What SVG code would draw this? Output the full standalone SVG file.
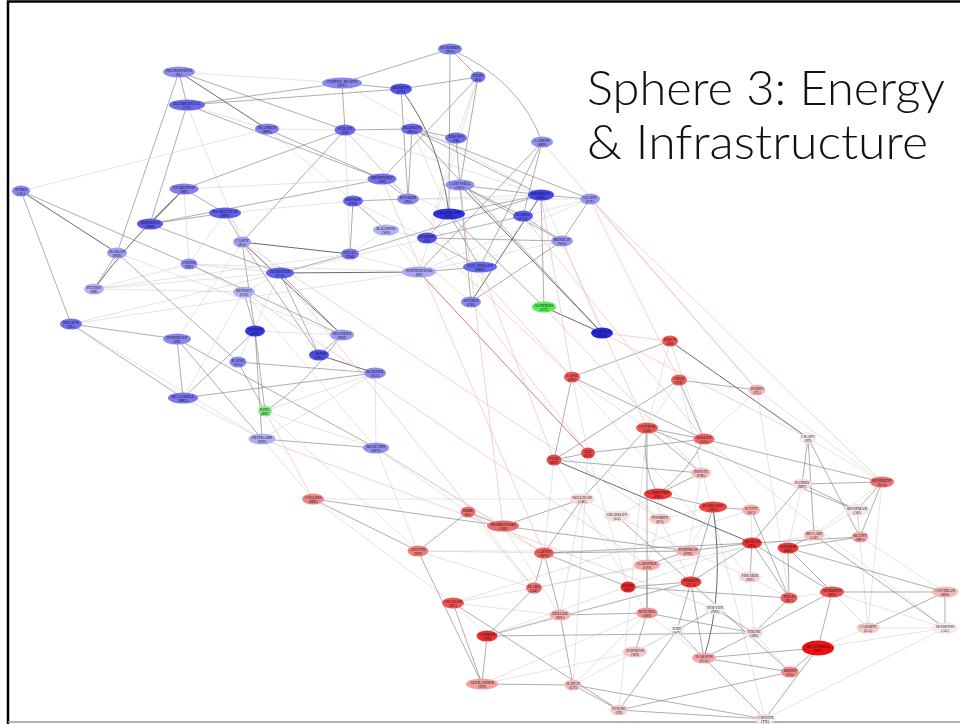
<svg xmlns="http://www.w3.org/2000/svg" width="960" height="724" viewBox="0 0 960 724">
<style>
.e1{stroke:#444;stroke-width:0.8;fill:none}
.e2{stroke:#777;stroke-width:0.6;fill:none}
.e3{stroke:#c8c8c8;stroke-width:0.5;fill:none}
.er{stroke:#ecb4b4;stroke-width:0.6;fill:none}
.err{stroke:#d46a6a;stroke-width:0.9;fill:none}
.node text{font-family:"Liberation Serif","DejaVu Serif",serif;font-size:4px;text-anchor:middle;fill:#111}
.pale{stroke:#e4d4d4;stroke-width:0.4}
.title{font-family:Lato,"Open Sans","Liberation Sans",sans-serif;font-weight:300;font-size:48px;fill:#111}
</style>
<rect width="960" height="724" fill="#fff"/>
<path d="M8,724 V1.5 H960" fill="none" stroke="#000" stroke-width="2.5"/>
<line x1="8" y1="722" x2="960" y2="722" stroke="#999" stroke-width="1.5"/>
<g id="connectors">
<line class="e2" x1="179" y1="72" x2="187" y2="105"/>
<line class="e2" x1="179" y1="72" x2="117" y2="253"/>
<line class="e1" x1="179" y1="72" x2="267" y2="129"/>
<line class="e3" x1="179" y1="72" x2="342" y2="83"/>
<line class="e2" x1="179" y1="72" x2="345" y2="130"/>
<line class="e2" x1="187" y1="105" x2="150" y2="224"/>
<line class="e3" x1="187" y1="105" x2="242" y2="242"/>
<line class="e2" x1="187" y1="105" x2="342" y2="83"/>
<line class="e2" x1="187" y1="105" x2="401" y2="89"/>
<line class="e2" x1="187" y1="105" x2="382" y2="179"/>
<line class="e3" x1="187" y1="105" x2="267" y2="129"/>
<line class="e3" x1="21" y1="191" x2="267" y2="129"/>
<line class="e1" x1="21" y1="191" x2="117" y2="253"/>
<line class="e2" x1="21" y1="191" x2="189" y2="264"/>
<line class="e2" x1="21" y1="191" x2="71" y2="324"/>
<line class="e1" x1="184" y1="189" x2="150" y2="224"/>
<line class="e2" x1="184" y1="189" x2="225" y2="213"/>
<line class="e2" x1="184" y1="189" x2="345" y2="130"/>
<line class="e3" x1="184" y1="189" x2="382" y2="179"/>
<path class="e1" d="M184,189 Q130,240 94,289"/>
<line class="e2" x1="150" y1="224" x2="225" y2="213"/>
<line class="e2" x1="150" y1="224" x2="280" y2="273"/>
<line class="e2" x1="150" y1="224" x2="382" y2="179"/>
<line class="e2" x1="342" y1="83" x2="345" y2="130"/>
<line class="e2" x1="342" y1="83" x2="450" y2="49"/>
<line class="e2" x1="342" y1="83" x2="401" y2="89"/>
<line class="e2" x1="267" y1="129" x2="382" y2="179"/>
<line class="e3" x1="267" y1="129" x2="345" y2="130"/>
<line class="e2" x1="345" y1="130" x2="412" y2="129"/>
<line class="e2" x1="345" y1="130" x2="242" y2="242"/>
<line class="e3" x1="345" y1="130" x2="408" y2="199"/>
<line class="e3" x1="345" y1="130" x2="541" y2="195"/>
<line class="e2" x1="450" y1="49" x2="478" y2="77"/>
<path class="e2" d="M450,49 Q520,80 542,142"/>
<line class="e2" x1="450" y1="49" x2="449" y2="214"/>
<line class="e2" x1="478" y1="77" x2="401" y2="89"/>
<line class="e2" x1="478" y1="77" x2="382" y2="179"/>
<line class="e3" x1="478" y1="77" x2="456" y2="138"/>
<line class="e2" x1="478" y1="77" x2="460" y2="185"/>
<line class="e2" x1="401" y1="89" x2="408" y2="199"/>
<path class="e1" d="M401,89 Q440,140 449,214"/>
<line class="e2" x1="412" y1="129" x2="456" y2="138"/>
<line class="e2" x1="412" y1="129" x2="590" y2="199"/>
<line class="e2" x1="412" y1="129" x2="541" y2="195"/>
<line class="e2" x1="412" y1="129" x2="408" y2="199"/>
<line class="e2" x1="412" y1="129" x2="602" y2="333"/>
<line class="e2" x1="542" y1="142" x2="419" y2="272"/>
<line class="e2" x1="542" y1="142" x2="523" y2="216"/>
<line class="e2" x1="542" y1="142" x2="480" y2="267"/>
<line class="e2" x1="460" y1="185" x2="541" y2="195"/>
<line class="e2" x1="460" y1="185" x2="523" y2="216"/>
<line class="e1" x1="460" y1="185" x2="602" y2="333"/>
<line class="e2" x1="460" y1="185" x2="562" y2="241"/>
<line class="e2" x1="541" y1="195" x2="590" y2="199"/>
<line class="e2" x1="449" y1="214" x2="541" y2="195"/>
<line class="e2" x1="449" y1="214" x2="544" y2="307"/>
<line class="e2" x1="449" y1="214" x2="480" y2="267"/>
<line class="e2" x1="590" y1="199" x2="562" y2="241"/>
<line class="e2" x1="562" y1="241" x2="523" y2="216"/>
<line class="e2" x1="562" y1="241" x2="427" y2="238"/>
<line class="e1" x1="471" y1="302" x2="541" y2="195"/>
<line class="e2" x1="471" y1="302" x2="562" y2="241"/>
<line class="e2" x1="471" y1="302" x2="460" y2="185"/>
<line class="e1" x1="544" y1="307" x2="602" y2="333"/>
<line class="e2" x1="544" y1="307" x2="541" y2="195"/>
<line class="e2" x1="427" y1="238" x2="480" y2="267"/>
<line class="e2" x1="480" y1="267" x2="419" y2="272"/>
<line class="e2" x1="523" y1="216" x2="427" y2="238"/>
<line class="e2" x1="408" y1="199" x2="382" y2="179"/>
<line class="e2" x1="353" y1="201" x2="350" y2="254"/>
<line class="e2" x1="353" y1="201" x2="408" y2="199"/>
<line class="e2" x1="353" y1="201" x2="386" y2="230"/>
<line class="e3" x1="353" y1="201" x2="225" y2="213"/>
<line class="e2" x1="225" y1="213" x2="242" y2="242"/>
<line class="e1" x1="242" y1="242" x2="350" y2="254"/>
<line class="e1" x1="242" y1="242" x2="342" y2="335"/>
<line class="e2" x1="242" y1="242" x2="319" y2="355"/>
<line class="e1" x1="280" y1="273" x2="419" y2="272"/>
<line class="e2" x1="280" y1="273" x2="350" y2="254"/>
<line class="e2" x1="280" y1="273" x2="342" y2="335"/>
<line class="e2" x1="280" y1="273" x2="319" y2="355"/>
<line class="e3" x1="280" y1="273" x2="523" y2="216"/>
<line class="e2" x1="350" y1="254" x2="541" y2="195"/>
<line class="e3" x1="350" y1="254" x2="386" y2="230"/>
<line class="e2" x1="244" y1="292" x2="255" y2="331"/>
<line class="e3" x1="244" y1="292" x2="189" y2="264"/>
<line class="e2" x1="189" y1="264" x2="342" y2="335"/>
<line class="e3" x1="189" y1="264" x2="94" y2="289"/>
<line class="e2" x1="117" y1="253" x2="94" y2="289"/>
<line class="e2" x1="117" y1="253" x2="238" y2="362"/>
<line class="e3" x1="117" y1="253" x2="342" y2="335"/>
<line class="e3" x1="94" y1="289" x2="280" y2="273"/>
<line class="e2" x1="71" y1="324" x2="177" y2="339"/>
<line class="e2" x1="71" y1="324" x2="183" y2="398"/>
<line class="e3" x1="71" y1="324" x2="262" y2="439"/>
<line class="e3" x1="71" y1="324" x2="280" y2="273"/>
<line class="e2" x1="177" y1="339" x2="183" y2="398"/>
<line class="e2" x1="177" y1="339" x2="262" y2="439"/>
<line class="e2" x1="177" y1="339" x2="376" y2="448"/>
<line class="e2" x1="255" y1="331" x2="265" y2="411"/>
<line class="e2" x1="255" y1="331" x2="262" y2="439"/>
<line class="e2" x1="255" y1="331" x2="183" y2="398"/>
<line class="e2" x1="238" y1="362" x2="375" y2="373"/>
<line class="e2" x1="238" y1="362" x2="265" y2="411"/>
<line class="e1" x1="319" y1="355" x2="375" y2="373"/>
<path class="e2" d="M342,335 Q300,390 265,411"/>
<line class="e2" x1="375" y1="373" x2="183" y2="398"/>
<line class="e3" x1="375" y1="373" x2="376" y2="448"/>
<line class="e2" x1="262" y1="439" x2="376" y2="448"/>
<line class="e3" x1="183" y1="398" x2="262" y2="439"/>
<line class="e3" x1="265" y1="411" x2="376" y2="448"/>
<line class="e3" x1="419" y1="272" x2="386" y2="230"/>
<line class="e3" x1="386" y1="230" x2="471" y2="302"/>
<line class="e2" x1="427" y1="238" x2="449" y2="214"/>
<line class="e2" x1="255" y1="331" x2="242" y2="242"/>
<line class="e3" x1="280" y1="273" x2="244" y2="292"/>
<line class="e3" x1="419" y1="272" x2="562" y2="241"/>
<line class="e3" x1="419" y1="272" x2="590" y2="199"/>
<line class="e3" x1="408" y1="199" x2="541" y2="195"/>
<line class="e3" x1="408" y1="199" x2="590" y2="199"/>
<line class="e3" x1="225" y1="213" x2="280" y2="273"/>
<line class="e3" x1="225" y1="213" x2="189" y2="264"/>
<line class="e3" x1="184" y1="189" x2="189" y2="264"/>
<line class="e3" x1="189" y1="264" x2="280" y2="273"/>
<line class="e3" x1="189" y1="264" x2="419" y2="272"/>
<line class="e3" x1="94" y1="289" x2="350" y2="254"/>
<line class="e3" x1="94" y1="289" x2="244" y2="292"/>
<line class="e3" x1="71" y1="324" x2="419" y2="272"/>
<line class="e3" x1="177" y1="339" x2="242" y2="242"/>
<line class="e3" x1="183" y1="398" x2="244" y2="292"/>
<line class="e3" x1="262" y1="439" x2="375" y2="373"/>
<line class="e3" x1="265" y1="411" x2="375" y2="373"/>
<line class="e3" x1="255" y1="331" x2="342" y2="335"/>
<line class="e3" x1="238" y1="362" x2="280" y2="273"/>
<line class="e3" x1="244" y1="292" x2="376" y2="448"/>
<line class="e2" x1="319" y1="355" x2="342" y2="335"/>
<line class="e3" x1="350" y1="254" x2="419" y2="272"/>
<line class="e3" x1="353" y1="201" x2="427" y2="238"/>
<line class="e3" x1="386" y1="230" x2="427" y2="238"/>
<line class="e3" x1="382" y1="179" x2="449" y2="214"/>
<line class="e3" x1="342" y1="83" x2="541" y2="195"/>
<line class="e3" x1="267" y1="129" x2="353" y2="201"/>
<line class="e3" x1="345" y1="130" x2="350" y2="254"/>
<line class="e2" x1="456" y1="138" x2="460" y2="185"/>
<line class="e3" x1="456" y1="138" x2="427" y2="238"/>
<line class="e3" x1="412" y1="129" x2="449" y2="214"/>
<line class="e3" x1="478" y1="77" x2="419" y2="272"/>
<line class="e3" x1="590" y1="199" x2="523" y2="216"/>
<line class="e3" x1="541" y1="195" x2="562" y2="241"/>
<line class="e3" x1="602" y1="333" x2="562" y2="241"/>
<line class="e2" x1="313" y1="499" x2="503" y2="526"/>
<line class="e2" x1="313" y1="499" x2="418" y2="551"/>
<line class="e3" x1="313" y1="499" x2="453" y2="603"/>
<line class="e2" x1="468" y1="512" x2="418" y2="551"/>
<line class="e2" x1="468" y1="512" x2="503" y2="526"/>
<line class="e3" x1="418" y1="551" x2="544" y2="553"/>
<line class="e3" x1="418" y1="551" x2="534" y2="588"/>
<line class="e2" x1="418" y1="551" x2="482" y2="684"/>
<line class="e3" x1="453" y1="603" x2="487" y2="636"/>
<line class="e3" x1="453" y1="603" x2="534" y2="588"/>
<line class="e2" x1="534" y1="588" x2="487" y2="636"/>
<line class="e2" x1="503" y1="526" x2="582" y2="499"/>
<line class="e2" x1="572" y1="377" x2="670" y2="341"/>
<line class="e2" x1="572" y1="377" x2="554" y2="460"/>
<line class="e3" x1="572" y1="377" x2="588" y2="453"/>
<line class="e2" x1="572" y1="377" x2="704" y2="439"/>
<line class="e3" x1="572" y1="377" x2="750" y2="577"/>
<line class="e3" x1="670" y1="341" x2="704" y2="439"/>
<line class="e1" x1="670" y1="341" x2="808" y2="438"/>
<line class="e2" x1="679" y1="380" x2="757" y2="390"/>
<line class="e2" x1="679" y1="380" x2="554" y2="460"/>
<line class="e2" x1="679" y1="380" x2="704" y2="439"/>
<line class="e3" x1="679" y1="380" x2="765" y2="719"/>
<line class="e3" x1="757" y1="390" x2="704" y2="439"/>
<line class="e3" x1="757" y1="390" x2="789" y2="598"/>
<line class="e2" x1="647" y1="428" x2="582" y2="499"/>
<line class="e2" x1="647" y1="428" x2="704" y2="439"/>
<path class="e2" d="M647,428 Q640,465 658,494"/>
<line class="e2" x1="647" y1="428" x2="701" y2="473"/>
<line class="e2" x1="647" y1="428" x2="857" y2="510"/>
<line class="e2" x1="588" y1="453" x2="554" y2="460"/>
<line class="e2" x1="588" y1="453" x2="704" y2="439"/>
<line class="e3" x1="588" y1="453" x2="573" y2="685"/>
<line class="e2" x1="554" y1="460" x2="701" y2="473"/>
<line class="e1" x1="554" y1="460" x2="752" y2="543"/>
<line class="e2" x1="701" y1="473" x2="658" y2="494"/>
<path class="e2" d="M704,439 Q690,470 658,494"/>
<line class="e2" x1="704" y1="439" x2="882" y2="482"/>
<line class="e3" x1="704" y1="439" x2="945" y2="628"/>
<line class="e2" x1="808" y1="438" x2="802" y2="484"/>
<line class="e2" x1="808" y1="438" x2="814" y2="535"/>
<line class="e2" x1="808" y1="438" x2="860" y2="537"/>
<line class="e2" x1="802" y1="484" x2="882" y2="482"/>
<line class="e2" x1="802" y1="484" x2="857" y2="510"/>
<line class="e2" x1="802" y1="484" x2="752" y2="543"/>
<line class="e2" x1="882" y1="482" x2="857" y2="510"/>
<line class="e2" x1="882" y1="482" x2="860" y2="537"/>
<line class="e3" x1="882" y1="482" x2="814" y2="535"/>
<line class="e3" x1="882" y1="482" x2="868" y2="628"/>
<line class="e3" x1="857" y1="510" x2="860" y2="537"/>
<line class="e3" x1="857" y1="510" x2="868" y2="628"/>
<line class="e2" x1="814" y1="535" x2="788" y2="548"/>
<line class="e2" x1="814" y1="535" x2="945" y2="628"/>
<line class="e3" x1="814" y1="535" x2="534" y2="588"/>
<line class="e2" x1="860" y1="537" x2="788" y2="548"/>
<line class="e2" x1="860" y1="537" x2="752" y2="543"/>
<line class="e2" x1="752" y1="543" x2="832" y2="592"/>
<line class="e2" x1="752" y1="543" x2="789" y2="598"/>
<line class="e2" x1="752" y1="543" x2="750" y2="577"/>
<line class="e2" x1="788" y1="548" x2="945" y2="592"/>
<line class="e2" x1="788" y1="548" x2="789" y2="598"/>
<line class="e2" x1="832" y1="592" x2="945" y2="592"/>
<line class="e2" x1="832" y1="592" x2="754" y2="633"/>
<line class="e2" x1="945" y1="592" x2="945" y2="628"/>
<line class="e2" x1="945" y1="592" x2="868" y2="628"/>
<line class="e3" x1="868" y1="628" x2="945" y2="628"/>
<line class="e2" x1="751" y1="510" x2="713" y2="507"/>
<line class="e3" x1="751" y1="510" x2="453" y2="603"/>
<path class="e1" d="M713,507 Q725,590 704,658"/>
<line class="e2" x1="713" y1="507" x2="677" y2="630"/>
<line class="e2" x1="715" y1="609" x2="754" y2="633"/>
<line class="e3" x1="658" y1="494" x2="617" y2="516"/>
<line class="e2" x1="617" y1="516" x2="790" y2="672"/>
<line class="e3" x1="660" y1="519" x2="691" y2="582"/>
<line class="e2" x1="544" y1="553" x2="560" y2="615"/>
<line class="e2" x1="544" y1="553" x2="534" y2="588"/>
<line class="e2" x1="544" y1="553" x2="688" y2="551"/>
<line class="e2" x1="544" y1="553" x2="752" y2="543"/>
<line class="e2" x1="628" y1="587" x2="789" y2="598"/>
<line class="e2" x1="628" y1="587" x2="691" y2="582"/>
<line class="e2" x1="628" y1="587" x2="544" y2="553"/>
<line class="e2" x1="691" y1="582" x2="704" y2="658"/>
<line class="e2" x1="691" y1="582" x2="752" y2="543"/>
<line class="e2" x1="647" y1="565" x2="688" y2="551"/>
<line class="e2" x1="647" y1="565" x2="647" y2="613"/>
<line class="e2" x1="647" y1="613" x2="754" y2="633"/>
<line class="e2" x1="647" y1="613" x2="635" y2="652"/>
<line class="e2" x1="560" y1="615" x2="573" y2="685"/>
<line class="e2" x1="560" y1="615" x2="647" y2="613"/>
<line class="e2" x1="677" y1="630" x2="704" y2="658"/>
<line class="e2" x1="704" y1="658" x2="754" y2="633"/>
<line class="e2" x1="704" y1="658" x2="790" y2="672"/>
<line class="e2" x1="704" y1="658" x2="765" y2="719"/>
<line class="e2" x1="487" y1="636" x2="482" y2="684"/>
<line class="e2" x1="487" y1="636" x2="754" y2="633"/>
<line class="e2" x1="453" y1="603" x2="482" y2="684"/>
<line class="e2" x1="453" y1="603" x2="619" y2="710"/>
<line class="e2" x1="482" y1="684" x2="573" y2="685"/>
<line class="e3" x1="482" y1="684" x2="647" y2="613"/>
<line class="e2" x1="573" y1="685" x2="619" y2="710"/>
<line class="e2" x1="573" y1="685" x2="765" y2="719"/>
<line class="e2" x1="619" y1="710" x2="765" y2="719"/>
<line class="e2" x1="619" y1="710" x2="790" y2="672"/>
<line class="e2" x1="619" y1="710" x2="677" y2="630"/>
<line class="e2" x1="790" y1="672" x2="818" y2="648"/>
<line class="e2" x1="765" y1="719" x2="818" y2="648"/>
<line class="e2" x1="818" y1="648" x2="832" y2="592"/>
<line class="e2" x1="715" y1="609" x2="677" y2="630"/>
<line class="e3" x1="582" y1="499" x2="617" y2="516"/>
<line class="e2" x1="582" y1="499" x2="544" y2="553"/>
<line class="e3" x1="660" y1="519" x2="647" y2="565"/>
<line class="e2" x1="688" y1="551" x2="752" y2="543"/>
<line class="e3" x1="688" y1="551" x2="750" y2="577"/>
<line class="e3" x1="750" y1="577" x2="789" y2="598"/>
<line class="e2" x1="658" y1="494" x2="713" y2="507"/>
<line class="e3" x1="713" y1="507" x2="660" y2="519"/>
<line class="e2" x1="487" y1="636" x2="691" y2="582"/>
<line class="e3" x1="487" y1="636" x2="752" y2="543"/>
<line class="e3" x1="635" y1="652" x2="715" y2="609"/>
<line class="e3" x1="468" y1="512" x2="544" y2="553"/>
<line class="e3" x1="313" y1="499" x2="582" y2="499"/>
<line class="e2" x1="503" y1="526" x2="688" y2="551"/>
<line class="e3" x1="418" y1="551" x2="688" y2="551"/>
<line class="e3" x1="534" y1="588" x2="647" y2="565"/>
<line class="e3" x1="588" y1="453" x2="628" y2="587"/>
<line class="e3" x1="554" y1="460" x2="647" y2="613"/>
<line class="e2" x1="647" y1="428" x2="647" y2="613"/>
<line class="e3" x1="647" y1="428" x2="619" y2="710"/>
<line class="e2" x1="751" y1="510" x2="789" y2="598"/>
<line class="e2" x1="788" y1="548" x2="832" y2="592"/>
<line class="e3" x1="945" y1="628" x2="832" y2="592"/>
<line class="e3" x1="757" y1="390" x2="882" y2="482"/>
<line class="e2" x1="818" y1="648" x2="704" y2="658"/>
<line class="e3" x1="573" y1="685" x2="635" y2="652"/>
<line class="e3" x1="572" y1="377" x2="647" y2="428"/>
<line class="e3" x1="670" y1="341" x2="647" y2="428"/>
<line class="e3" x1="679" y1="380" x2="647" y2="428"/>
<line class="e3" x1="658" y1="494" x2="660" y2="519"/>
<line class="e3" x1="617" y1="516" x2="688" y2="551"/>
<line class="e3" x1="582" y1="499" x2="560" y2="615"/>
<line class="e3" x1="503" y1="526" x2="560" y2="615"/>
<line class="e3" x1="468" y1="512" x2="534" y2="588"/>
<line class="e3" x1="453" y1="603" x2="560" y2="615"/>
<line class="e3" x1="487" y1="636" x2="560" y2="615"/>
<line class="e3" x1="482" y1="684" x2="635" y2="652"/>
<line class="e3" x1="573" y1="685" x2="647" y2="613"/>
<line class="e3" x1="635" y1="652" x2="677" y2="630"/>
<line class="e3" x1="790" y1="672" x2="754" y2="633"/>
<line class="e3" x1="647" y1="613" x2="704" y2="658"/>
<line class="e3" x1="750" y1="577" x2="754" y2="633"/>
<line class="e2" x1="789" y1="598" x2="754" y2="633"/>
<line class="e3" x1="789" y1="598" x2="832" y2="592"/>
<line class="e3" x1="802" y1="484" x2="788" y2="548"/>
<line class="e3" x1="713" y1="507" x2="688" y2="551"/>
<line class="e3" x1="751" y1="510" x2="752" y2="543"/>
<line class="e3" x1="701" y1="473" x2="688" y2="551"/>
<line class="e3" x1="704" y1="439" x2="751" y2="510"/>
<line class="e3" x1="554" y1="460" x2="544" y2="553"/>
<line class="e3" x1="588" y1="453" x2="660" y2="519"/>
<line class="e3" x1="808" y1="438" x2="882" y2="482"/>
<line class="e3" x1="814" y1="535" x2="857" y2="510"/>
<line class="e3" x1="945" y1="592" x2="860" y2="537"/>
<line class="e3" x1="868" y1="628" x2="832" y2="592"/>
<line class="e3" x1="945" y1="628" x2="765" y2="719"/>
<line class="e3" x1="818" y1="648" x2="868" y2="628"/>
<line class="e3" x1="818" y1="648" x2="945" y2="628"/>
<line class="e3" x1="265" y1="411" x2="418" y2="551"/>
<line class="e3" x1="262" y1="439" x2="313" y2="499"/>
<line class="e3" x1="376" y1="448" x2="468" y2="512"/>
<line class="e3" x1="376" y1="448" x2="418" y2="551"/>
<line class="e3" x1="376" y1="448" x2="503" y2="526"/>
<line class="err" x1="419" y1="272" x2="588" y2="453"/>
<line class="er" x1="590" y1="199" x2="757" y2="390"/>
<line class="er" x1="562" y1="241" x2="647" y2="428"/>
<line class="er" x1="544" y1="307" x2="701" y2="473"/>
<line class="er" x1="602" y1="333" x2="670" y2="341"/>
<line class="er" x1="541" y1="195" x2="572" y2="377"/>
<line class="er" x1="523" y1="216" x2="704" y2="439"/>
<line class="er" x1="471" y1="302" x2="588" y2="453"/>
<line class="er" x1="480" y1="267" x2="554" y2="460"/>
<line class="er" x1="376" y1="448" x2="544" y2="553"/>
<line class="er" x1="265" y1="411" x2="313" y2="499"/>
<line class="er" x1="244" y1="292" x2="647" y2="565"/>
<line class="er" x1="242" y1="242" x2="660" y2="519"/>
<line class="er" x1="262" y1="439" x2="715" y2="609"/>
<line class="er" x1="345" y1="130" x2="572" y2="377"/>
<line class="er" x1="382" y1="179" x2="544" y2="553"/>
<line class="er" x1="460" y1="185" x2="503" y2="526"/>
<line class="er" x1="602" y1="333" x2="808" y2="438"/>
<line class="er" x1="590" y1="199" x2="679" y2="380"/>
<line class="er" x1="427" y1="238" x2="572" y2="377"/>
<line class="er" x1="280" y1="273" x2="534" y2="588"/>
<line class="er" x1="542" y1="142" x2="757" y2="390"/>
<line class="er" x1="590" y1="199" x2="882" y2="482"/>
</g>
<g id="nodes">
<g id="n-duckworth" class="node"><ellipse cx="179" cy="72" rx="16" ry="5.5" fill="#8c8cf0"/><text x="179" y="71.5">DUCKWORTH<tspan x="179" dy="4">(IL)</tspan></text></g>
<g id="n-cortez" class="node"><ellipse cx="342" cy="83" rx="20" ry="5.5" fill="#8888f0"/><text x="342" y="82.5">CORTEZ_MASTO<tspan x="342" dy="4">(NV)</tspan></text></g>
<g id="n-murphy" class="node"><ellipse cx="401" cy="89" rx="11" ry="5.5" fill="#5555ee"/><text x="401" y="88.5">MURPHY<tspan x="401" dy="4">(CT)</tspan></text></g>
<g id="n-schumer" class="node"><ellipse cx="450" cy="49" rx="12" ry="5.5" fill="#8080f0"/><text x="450" y="48.5">SCHUMER<tspan x="450" dy="4">(NY)</tspan></text></g>
<g id="n-reed" class="node"><ellipse cx="478" cy="77" rx="7.5" ry="5.5" fill="#7777ee"/><text x="478" y="76.5">REED<tspan x="478" dy="4">(RI)</tspan></text></g>
<g id="n-blumenthal" class="node"><ellipse cx="187" cy="105" rx="18" ry="5.5" fill="#6a6aee"/><text x="187" y="104.5">BLUMENTHAL<tspan x="187" dy="4">(CT)</tspan></text></g>
<g id="n-franken" class="node"><ellipse cx="267" cy="129" rx="12" ry="5.5" fill="#8080f0"/><text x="267" y="128.5">FRANKEN<tspan x="267" dy="4">(MN)</tspan></text></g>
<g id="n-schatz" class="node"><ellipse cx="345" cy="130" rx="10.5" ry="5.5" fill="#6a6aee"/><text x="345" y="129.5">SCHATZ<tspan x="345" dy="4">(HI)</tspan></text></g>
<g id="n-markey" class="node"><ellipse cx="412" cy="129" rx="11" ry="5.5" fill="#6a6aee"/><text x="412" y="128.5">MARKEY<tspan x="412" dy="4">(MA)</tspan></text></g>
<g id="n-hirono" class="node"><ellipse cx="456" cy="138" rx="11" ry="5.5" fill="#7070ee"/><text x="456" y="137.5">HIRONO<tspan x="456" dy="4">(HI)</tspan></text></g>
<g id="n-cardin" class="node"><ellipse cx="542" cy="142" rx="11" ry="5.5" fill="#9090f0"/><text x="542" y="141.5">CARDIN<tspan x="542" dy="4">(MD)</tspan></text></g>
<g id="n-stabenow" class="node"><ellipse cx="184" cy="189" rx="14.5" ry="5.5" fill="#8080f0"/><text x="184" y="188.5">STABENOW<tspan x="184" dy="4">(MI)</tspan></text></g>
<g id="n-menendez" class="node"><ellipse cx="382" cy="179" rx="14.5" ry="5.5" fill="#7070ee"/><text x="382" y="178.5">MENENDEZ<tspan x="382" dy="4">(NJ)</tspan></text></g>
<g id="n-cantwell" class="node"><ellipse cx="460" cy="185" rx="14.5" ry="5.5" fill="#9090f0"/><text x="460" y="184.5">CANTWELL<tspan x="460" dy="4">(WA)</tspan></text></g>
<g id="n-jones" class="node"><ellipse cx="21" cy="191" rx="9" ry="5.5" fill="#8888f0"/><text x="21" y="190.5">JONES<tspan x="21" dy="4">(AL)</tspan></text></g>
<g id="n-merkley" class="node"><ellipse cx="541" cy="195" rx="13" ry="5.5" fill="#4444ee"/><text x="541" y="194.5">MERKLEY<tspan x="541" dy="4">(OR)</tspan></text></g>
<g id="n-leahy" class="node"><ellipse cx="590" cy="199" rx="10" ry="5.5" fill="#9a9af2"/><text x="590" y="198.5">LEAHY<tspan x="590" dy="4">(VT)</tspan></text></g>
<g id="n-brown" class="node"><ellipse cx="353" cy="201" rx="10" ry="5.5" fill="#6666ee"/><text x="353" y="200.5">BROWN<tspan x="353" dy="4">(OH)</tspan></text></g>
<g id="n-booker" class="node"><ellipse cx="408" cy="199" rx="11" ry="5.5" fill="#8888f0"/><text x="408" y="198.5">BOOKER<tspan x="408" dy="4">(NJ)</tspan></text></g>
<g id="n-klobuchar" class="node"><ellipse cx="225" cy="213" rx="16" ry="5.5" fill="#6060ee"/><text x="225" y="212.5">KLOBUCHAR<tspan x="225" dy="4">(MN)</tspan></text></g>
<g id="n-heinrich" class="node"><ellipse cx="150" cy="224" rx="13" ry="5.5" fill="#5a5aee"/><text x="150" y="223.5">HEINRICH<tspan x="150" dy="4">(NM)</tspan></text></g>
<g id="n-gillibrand" class="node"><ellipse cx="449" cy="214" rx="16" ry="5.5" fill="#3030e8"/><text x="449" y="213.5">GILLIBRAND<tspan x="449" dy="4">(NY)</tspan></text></g>
<g id="n-harris" class="node"><ellipse cx="523" cy="216" rx="10" ry="5.5" fill="#5a5aee"/><text x="523" y="215.5">HARRIS<tspan x="523" dy="4">(CA)</tspan></text></g>
<g id="n-baldwin" class="node"><ellipse cx="386" cy="230" rx="13" ry="5.5" fill="#b0b0f5"/><text x="386" y="229.5">BALDWIN<tspan x="386" dy="4">(WI)</tspan></text></g>
<g id="n-durbin" class="node"><ellipse cx="427" cy="238" rx="10" ry="5.5" fill="#5050ee"/><text x="427" y="237.5">DURBIN<tspan x="427" dy="4">(IL)</tspan></text></g>
<g id="n-casey" class="node"><ellipse cx="242" cy="242" rx="9" ry="5.5" fill="#a0a0f5"/><text x="242" y="241.5">CASEY<tspan x="242" dy="4">(PA)</tspan></text></g>
<g id="n-murray" class="node"><ellipse cx="562" cy="241" rx="11" ry="5.5" fill="#9a9af2"/><text x="562" y="240.5">MURRAY<tspan x="562" dy="4">(WA)</tspan></text></g>
<g id="n-hassan" class="node"><ellipse cx="117" cy="253" rx="10" ry="5.5" fill="#a0a0f5"/><text x="117" y="252.5">HASSAN<tspan x="117" dy="4">(NH)</tspan></text></g>
<g id="n-udall" class="node"><ellipse cx="350" cy="254" rx="9" ry="5.5" fill="#7777ee"/><text x="350" y="253.5">UDALL<tspan x="350" dy="4">(NM)</tspan></text></g>
<g id="n-coons" class="node"><ellipse cx="189" cy="264" rx="8.5" ry="5.5" fill="#9090f0"/><text x="189" y="263.5">COONS<tspan x="189" dy="4">(DE)</tspan></text></g>
<g id="n-vanhollen" class="node"><ellipse cx="480" cy="267" rx="17" ry="5.5" fill="#6a6aee"/><text x="480" y="266.5">VAN_HOLLEN<tspan x="480" dy="4">(MD)</tspan></text></g>
<g id="n-feinstein" class="node"><ellipse cx="280" cy="273" rx="14" ry="5.5" fill="#6060ee"/><text x="280" y="272.5">FEINSTEIN<tspan x="280" dy="4">(CA)</tspan></text></g>
<g id="n-whitehouse" class="node"><ellipse cx="419" cy="272" rx="17" ry="5.5" fill="#a8a8f5"/><text x="419" y="271.5">WHITEHOUSE<tspan x="419" dy="4">(RI)</tspan></text></g>
<g id="n-peters" class="node"><ellipse cx="94" cy="289" rx="10" ry="5.5" fill="#b0b0f5"/><text x="94" y="288.5">PETERS<tspan x="94" dy="4">(MI)</tspan></text></g>
<g id="n-bennet" class="node"><ellipse cx="244" cy="292" rx="11" ry="5.5" fill="#b0b0f5"/><text x="244" y="291.5">BENNET<tspan x="244" dy="4">(CO)</tspan></text></g>
<g id="n-wyden" class="node"><ellipse cx="471" cy="302" rx="10" ry="5.5" fill="#8888f0"/><text x="471" y="301.5">WYDEN<tspan x="471" dy="4">(OR)</tspan></text></g>
<g id="n-sanders" class="node"><ellipse cx="544" cy="307" rx="12" ry="5.5" fill="#55ee55"/><text x="544" y="306.5">SANDERS<tspan x="544" dy="4">(VT)</tspan></text></g>
<g id="n-nelson" class="node"><ellipse cx="71" cy="324" rx="11" ry="5.5" fill="#7070ee"/><text x="71" y="323.5">NELSON<tspan x="71" dy="4">(FL)</tspan></text></g>
<g id="n-warren" class="node"><ellipse cx="602" cy="333" rx="11" ry="5.5" fill="#2828e0"/><text x="602" y="332.5">WARREN<tspan x="602" dy="4">(MA)</tspan></text></g>
<g id="n-tester" class="node"><ellipse cx="255" cy="331" rx="10" ry="5.5" fill="#3838e8"/><text x="255" y="330.5">TESTER<tspan x="255" dy="4">(MT)</tspan></text></g>
<g id="n-shaheen" class="node"><ellipse cx="342" cy="335" rx="12" ry="5.5" fill="#9a9af2"/><text x="342" y="334.5">SHAHEEN<tspan x="342" dy="4">(NH)</tspan></text></g>
<g id="n-donnelly" class="node"><ellipse cx="177" cy="339" rx="14" ry="5.5" fill="#8888f0"/><text x="177" y="338.5">DONNELLY<tspan x="177" dy="4">(IN)</tspan></text></g>
<g id="n-kaine" class="node"><ellipse cx="238" cy="362" rx="8.5" ry="5.5" fill="#8888f0"/><text x="238" y="361.5">KAINE<tspan x="238" dy="4">(VA)</tspan></text></g>
<g id="n-carper" class="node"><ellipse cx="319" cy="355" rx="10" ry="5.5" fill="#5050ee"/><text x="319" y="354.5">CARPER<tspan x="319" dy="4">(DE)</tspan></text></g>
<g id="n-warner" class="node"><ellipse cx="375" cy="373" rx="11" ry="5.5" fill="#8888f0"/><text x="375" y="372.5">WARNER<tspan x="375" dy="4">(VA)</tspan></text></g>
<g id="n-mccaskill" class="node"><ellipse cx="183" cy="398" rx="15" ry="5.5" fill="#7777ee"/><text x="183" y="397.5">MCCASKILL<tspan x="183" dy="4">(MO)</tspan></text></g>
<g id="n-king" class="node"><ellipse cx="265" cy="411" rx="7" ry="5.5" fill="#88ee88"/><text x="265" y="410.5">KING<tspan x="265" dy="4">(ME)</tspan></text></g>
<g id="n-heitkamp" class="node"><ellipse cx="262" cy="439" rx="13.5" ry="5.5" fill="#b0b0f5"/><text x="262" y="438.5">HEITKAMP<tspan x="262" dy="4">(ND)</tspan></text></g>
<g id="n-manchin" class="node"><ellipse cx="376" cy="448" rx="13" ry="5.5" fill="#9090f0"/><text x="376" y="447.5">MANCHIN<tspan x="376" dy="4">(WV)</tspan></text></g>
<g id="n-risch" class="node"><ellipse cx="670" cy="341" rx="8" ry="5.5" fill="#ee5555"/><text x="670" y="340.5">RISCH<tspan x="670" dy="4">(ID)</tspan></text></g>
<g id="n-sasse" class="node"><ellipse cx="572" cy="377" rx="8" ry="5.5" fill="#ee5a5a"/><text x="572" y="376.5">SASSE<tspan x="572" dy="4">(NE)</tspan></text></g>
<g id="n-cruz" class="node"><ellipse cx="679" cy="380" rx="8" ry="5.5" fill="#ee6060"/><text x="679" y="379.5">CRUZ<tspan x="679" dy="4">(TX)</tspan></text></g>
<g id="n-rubio" class="node"><ellipse cx="757" cy="390" rx="8.5" ry="5.5" fill="#f5b8b8"/><text x="757" y="389.5">RUBIO<tspan x="757" dy="4">(FL)</tspan></text></g>
<g id="n-cotton" class="node"><ellipse cx="647" cy="428" rx="11" ry="5.5" fill="#ee5555"/><text x="647" y="427.5">COTTON<tspan x="647" dy="4">(AR)</tspan></text></g>
<g id="n-shelby" class="node"><ellipse cx="704" cy="439" rx="10.5" ry="5.5" fill="#ee6666"/><text x="704" y="438.5">SHELBY<tspan x="704" dy="4">(AL)</tspan></text></g>
<g id="n-lee" class="node"><ellipse cx="588" cy="453" rx="7" ry="5.5" fill="#ee4444"/><text x="588" y="452.5">LEE<tspan x="588" dy="4">(UT)</tspan></text></g>
<g id="n-paul" class="node"><ellipse cx="554" cy="460" rx="7.5" ry="5.5" fill="#ee4a4a"/><text x="554" y="459.5">PAUL<tspan x="554" dy="4">(KY)</tspan></text></g>
<g id="n-crapo" class="node"><ellipse class="pale" cx="808" cy="438" rx="8" ry="5.5" fill="#f8eeee"/><text x="808" y="437.5">CRAPO<tspan x="808" dy="4">(ID)</tspan></text></g>
<g id="n-inhofe" class="node"><ellipse cx="701" cy="473" rx="10" ry="5.5" fill="#f5c0c0"/><text x="701" y="472.5">INHOFE<tspan x="701" dy="4">(OK)</tspan></text></g>
<g id="n-daines" class="node"><ellipse cx="802" cy="484" rx="10" ry="5.5" fill="#f8dede"/><text x="802" y="483.5">DAINES<tspan x="802" dy="4">(MT)</tspan></text></g>
<g id="n-kennedy" class="node"><ellipse cx="882" cy="482" rx="12" ry="5.5" fill="#ee7070"/><text x="882" y="481.5">KENNEDY<tspan x="882" dy="4">(LA)</tspan></text></g>
<g id="n-sullivan" class="node"><ellipse cx="582" cy="499" rx="12.5" ry="5.5" fill="#f8d8d8"/><text x="582" y="498.5">SULLIVAN<tspan x="582" dy="4">(AK)</tspan></text></g>
<g id="n-lankford" class="node"><ellipse cx="658" cy="494" rx="14" ry="5.5" fill="#ee3838"/><text x="658" y="493.5">LANKFORD<tspan x="658" dy="4">(OK)</tspan></text></g>
<g id="n-grassley" class="node"><ellipse cx="617" cy="516" rx="13" ry="5.5" fill="#f8e0e0"/><text x="617" y="515.5">GRASSLEY<tspan x="617" dy="4">(IA)</tspan></text></g>
<g id="n-toomey" class="node"><ellipse cx="660" cy="519" rx="11" ry="5.5" fill="#f5c8c8"/><text x="660" y="518.5">TOOMEY<tspan x="660" dy="4">(PA)</tspan></text></g>
<g id="n-barrasso" class="node"><ellipse cx="713" cy="507" rx="14" ry="5.5" fill="#ee4444"/><text x="713" y="506.5">BARRASSO<tspan x="713" dy="4">(WY)</tspan></text></g>
<g id="n-scott" class="node"><ellipse cx="751" cy="510" rx="9" ry="5.5" fill="#f5b0b0"/><text x="751" y="509.5">SCOTT<tspan x="751" dy="4">(SC)</tspan></text></g>
<g id="n-boozman" class="node"><ellipse class="pale" cx="857" cy="510" rx="12" ry="5.5" fill="#f8e6e6"/><text x="857" y="509.5">BOOZMAN<tspan x="857" dy="4">(AR)</tspan></text></g>
<g id="n-mccain" class="node"><ellipse cx="814" cy="535" rx="10.5" ry="5.5" fill="#f5c0c0"/><text x="814" y="534.5">MCCAIN<tspan x="814" dy="4">(AZ)</tspan></text></g>
<g id="n-blunt" class="node"><ellipse cx="860" cy="537" rx="8.5" ry="5.5" fill="#f5aaaa"/><text x="860" y="536.5">BLUNT<tspan x="860" dy="4">(MO)</tspan></text></g>
<g id="n-moran" class="node"><ellipse cx="752" cy="543" rx="10" ry="5.5" fill="#ee3333"/><text x="752" y="542.5">MORAN<tspan x="752" dy="4">(KS)</tspan></text></g>
<g id="n-wicker" class="node"><ellipse cx="788" cy="548" rx="10.5" ry="5.5" fill="#ee3a3a"/><text x="788" y="547.5">WICKER<tspan x="788" dy="4">(MS)</tspan></text></g>
<g id="n-fischer" class="node"><ellipse cx="750" cy="577" rx="11" ry="5.5" fill="#f8d8d8"/><text x="750" y="576.5">FISCHER<tspan x="750" dy="4">(NE)</tspan></text></g>
<g id="n-roberts" class="node"><ellipse cx="832" cy="592" rx="12" ry="5.5" fill="#ee5050"/><text x="832" y="591.5">ROBERTS<tspan x="832" dy="4">(KS)</tspan></text></g>
<g id="n-cochran" class="node"><ellipse cx="945" cy="592" rx="13" ry="5.5" fill="#f5b8b8"/><text x="945" y="591.5">COCHRAN<tspan x="945" dy="4">(MS)</tspan></text></g>
<g id="n-tillis" class="node"><ellipse cx="789" cy="598" rx="8.5" ry="5.5" fill="#ee6060"/><text x="789" y="597.5">TILLIS<tspan x="789" dy="4">(NC)</tspan></text></g>
<g id="n-hoeven" class="node"><ellipse class="pale" cx="715" cy="609" rx="9.5" ry="5.5" fill="#f8f0f0"/><text x="715" y="608.5">HOEVEN<tspan x="715" dy="4">(ND)</tspan></text></g>
<g id="n-thune" class="node"><ellipse cx="754" cy="633" rx="9" ry="5.5" fill="#f8dede"/><text x="754" y="632.5">THUNE<tspan x="754" dy="4">(SD)</tspan></text></g>
<g id="n-cassidy" class="node"><ellipse cx="868" cy="628" rx="11.5" ry="5.5" fill="#f5cccc"/><text x="868" y="627.5">CASSIDY<tspan x="868" dy="4">(LA)</tspan></text></g>
<g id="n-sessions" class="node"><ellipse class="pale" cx="945" cy="628" rx="12.5" ry="5.5" fill="#f8ecec"/><text x="945" y="627.5">SESSIONS<tspan x="945" dy="4">(AL)</tspan></text></g>
<g id="n-collins" class="node"><ellipse cx="313" cy="499" rx="11" ry="5.5" fill="#f08888"/><text x="313" y="498.5">COLLINS<tspan x="313" dy="4">(ME)</tspan></text></g>
<g id="n-kirk" class="node"><ellipse cx="468" cy="512" rx="7.5" ry="5.5" fill="#ee7070"/><text x="468" y="511.5">KIRK<tspan x="468" dy="4">(IL)</tspan></text></g>
<g id="n-murkowski" class="node"><ellipse cx="503" cy="526" rx="16" ry="5.5" fill="#ee6a6a"/><text x="503" y="525.5">MURKOWSKI<tspan x="503" dy="4">(AK)</tspan></text></g>
<g id="n-ayotte" class="node"><ellipse cx="418" cy="551" rx="10.5" ry="5.5" fill="#f08080"/><text x="418" y="550.5">AYOTTE<tspan x="418" dy="4">(NH)</tspan></text></g>
<g id="n-capito" class="node"><ellipse cx="544" cy="553" rx="10" ry="5.5" fill="#ee6060"/><text x="544" y="552.5">CAPITO<tspan x="544" dy="4">(WV)</tspan></text></g>
<g id="n-flake" class="node"><ellipse cx="534" cy="588" rx="8" ry="5.5" fill="#ee7070"/><text x="534" y="587.5">FLAKE<tspan x="534" dy="4">(AZ)</tspan></text></g>
<g id="n-graham" class="node"><ellipse cx="453" cy="603" rx="11" ry="5.5" fill="#ee5555"/><text x="453" y="602.5">GRAHAM<tspan x="453" dy="4">(SC)</tspan></text></g>
<g id="n-corker" class="node"><ellipse cx="487" cy="636" rx="10.5" ry="5.5" fill="#ee3333"/><text x="487" y="635.5">CORKER<tspan x="487" dy="4">(TN)</tspan></text></g>
<g id="n-portman" class="node"><ellipse cx="688" cy="551" rx="12" ry="5.5" fill="#f5b0b0"/><text x="688" y="550.5">PORTMAN<tspan x="688" dy="4">(OH)</tspan></text></g>
<g id="n-gardner" class="node"><ellipse cx="647" cy="565" rx="13" ry="5.5" fill="#f5a8a8"/><text x="647" y="564.5">GARDNER<tspan x="647" dy="4">(CO)</tspan></text></g>
<g id="n-burr" class="node"><ellipse cx="628" cy="587" rx="7.5" ry="5.5" fill="#ee2828"/><text x="628" y="586.5">BURR<tspan x="628" dy="4">(NC)</tspan></text></g>
<g id="n-perdue" class="node"><ellipse cx="691" cy="582" rx="10.5" ry="5.5" fill="#ee3a3a"/><text x="691" y="581.5">PERDUE<tspan x="691" dy="4">(GA)</tspan></text></g>
<g id="n-heller" class="node"><ellipse cx="560" cy="615" rx="10.5" ry="5.5" fill="#f5b0b0"/><text x="560" y="614.5">HELLER<tspan x="560" dy="4">(NV)</tspan></text></g>
<g id="n-rounds" class="node"><ellipse cx="647" cy="613" rx="11" ry="5.5" fill="#f09898"/><text x="647" y="612.5">ROUNDS<tspan x="647" dy="4">(SD)</tspan></text></g>
<g id="n-enzi" class="node"><ellipse class="pale" cx="677" cy="630" rx="7" ry="5.5" fill="#fbf6f6"/><text x="677" y="629.5">ENZI<tspan x="677" dy="4">(WY)</tspan></text></g>
<g id="n-johnson" class="node"><ellipse cx="635" cy="652" rx="12" ry="5.5" fill="#f5c8c8"/><text x="635" y="651.5">JOHNSON<tspan x="635" dy="4">(WI)</tspan></text></g>
<g id="n-isakson" class="node"><ellipse cx="704" cy="658" rx="12" ry="5.5" fill="#f5aaaa"/><text x="704" y="657.5">ISAKSON<tspan x="704" dy="4">(GA)</tspan></text></g>
<g id="n-mcconnell" class="node"><ellipse cx="818" cy="648" rx="16" ry="7.5" fill="#ee1111"/><text x="818" y="647.5">MCCONNELL<tspan x="818" dy="4">(KY)</tspan></text></g>
<g id="n-ernst" class="node"><ellipse cx="790" cy="672" rx="9" ry="5.5" fill="#f08888"/><text x="790" y="671.5">ERNST<tspan x="790" dy="4">(IA)</tspan></text></g>
<g id="n-alexander" class="node"><ellipse cx="482" cy="684" rx="16" ry="5.5" fill="#f5a0a0"/><text x="482" y="683.5">ALEXANDER<tspan x="482" dy="4">(TN)</tspan></text></g>
<g id="n-hatch" class="node"><ellipse cx="573" cy="685" rx="8.5" ry="5.5" fill="#f5c0c0"/><text x="573" y="684.5">HATCH<tspan x="573" dy="4">(UT)</tspan></text></g>
<g id="n-young" class="node"><ellipse cx="619" cy="710" rx="9" ry="5.5" fill="#f5d0d0"/><text x="619" y="709.5">YOUNG<tspan x="619" dy="4">(IN)</tspan></text></g>
<g id="n-cornyn" class="node"><ellipse class="pale" cx="765" cy="719" rx="10" ry="5" fill="#f8eaea"/><text x="765" y="718.5">CORNYN<tspan x="765" dy="4">(TX)</tspan></text></g>
</g>
<g id="title">
<text class="title" x="587" y="105" textLength="358" lengthAdjust="spacingAndGlyphs">Sphere 3: Energy</text>
<text class="title" x="587" y="159" textLength="341" lengthAdjust="spacingAndGlyphs">&amp; Infrastructure</text>
</g>
</svg>
